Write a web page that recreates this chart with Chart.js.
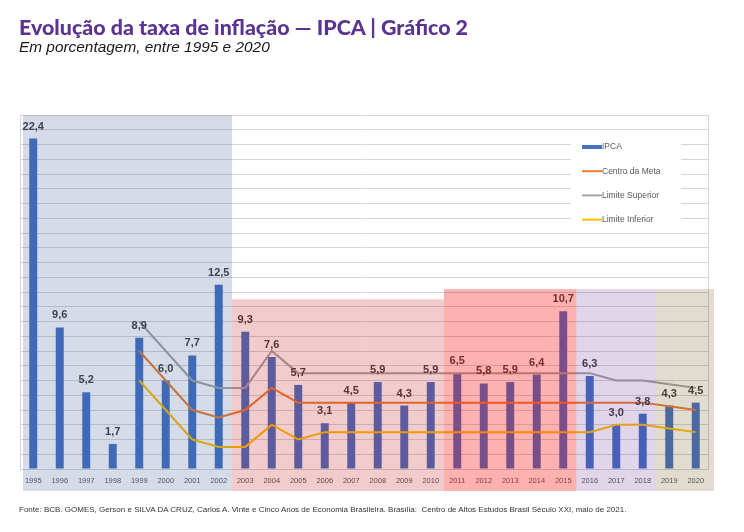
<!DOCTYPE html>
<html>
<head>
<meta charset="utf-8">
<script src="https://cdn.jsdelivr.net/npm/chart.js@4.4.1/dist/chart.umd.min.js"></script>
<style>
  body { margin: 0; background: #fff; width: 744px; height: 532px; position: relative; overflow: hidden; }
  #title { position: absolute; left: 19px; top: 14px; font: 900 21.4px Lato, "Noto Sans", sans-serif; color: #5b3492; white-space: nowrap; }
  #subtitle { position: absolute; left: 19px; top: 38px; font: italic 15.4px "Liberation Sans", Arial, sans-serif; color: #1a1a1a; white-space: nowrap; }
  #source { position: absolute; left: 19px; top: 505px; font: 8px "Liberation Sans", Arial, sans-serif; color: #333; white-space: nowrap; }
  #wrap { position: absolute; left: 0; top: 0; width: 744px; height: 532px; }
</style>
</head>
<body>
<div id="wrap"><canvas id="canvas"></canvas></div>
<div id="title">Evolução da taxa de inflação — IPCA | Gráfico 2</div>
<div id="subtitle">Em porcentagem, entre 1995 e 2020</div>
<div id="source">Fonte: BCB. GOMES, Gerson e SILVA DA CRUZ, Carlos A. Vinte e Cinco Anos de Economia Brasileira. Brasília:&nbsp; Centro de Altos Estudos Brasil Século XXI, maio de 2021.</div>
<script>
const years = ["1995","1996","1997","1998","1999","2000","2001","2002","2003","2004","2005","2006","2007",
               "2008","2009","2010","2011","2012","2013","2014","2015","2016","2017","2018","2019","2020"];

const ipca = [22.4, 9.6, 5.2, 1.7, 8.9, 6.0, 7.7, 12.5, 9.3, 7.6, 5.7, 3.1, 4.5,
              5.9, 4.3, 5.9, 6.5, 5.8, 5.9, 6.4, 10.7, 6.3, 3.0, 3.75, 4.3, 4.5];

const centroMeta = [null, null, null, null, 8, 6, 4, 3.5, 4, 5.5, 4.5, 4.5, 4.5,
                    4.5, 4.5, 4.5, 4.5, 4.5, 4.5, 4.5, 4.5, 4.5, 4.5, 4.5, 4.25, 4.0];

const limiteSuperior = [null, null, null, null, 10, 8, 6, 5.5, 5.5, 8, 6.5, 6.5, 6.5,
                        6.5, 6.5, 6.5, 6.5, 6.5, 6.5, 6.5, 6.5, 6.5, 6.0, 6.0, 5.75, 5.5];

const limiteInferior = [null, null, null, null, 6, 4, 2, 1.5, 1.5, 3, 2, 2.5, 2.5,
                        2.5, 2.5, 2.5, 2.5, 2.5, 2.5, 2.5, 2.5, 2.5, 3.0, 3.0, 2.75, 2.5];

// shaded periods (first year, last year, top of the band in %)
const periodStart = ["1995", "2003", "2011", "2016", "2019"];
const periodEnd   = ["2002", "2010", "2015", "2018", "2020"];
const periodTop   = [24, 11.5, 12.2, 12.2, 12.2];
const periodColor = ["rgba(45,75,135,0.2)", "rgba(185,0,5,0.2)", "rgba(248,0,0,0.3)",
                     "rgba(88,22,139,0.18)", "rgba(97,65,0,0.185)"];

const legendNames = ["IPCA", "Centro da Meta", "Limite Superior", "Limite Inferior"];

const fmt = v => v.toFixed(1).replace(".", ",");

// value labels above the bars
const barLabels = {
  id: "barLabels",
  afterDatasetsDraw(chart) {
    const ctx = chart.ctx;
    const meta = chart.getDatasetMeta(0);
    ctx.save();
    ctx.font = "bold 11px 'Liberation Sans', Arial, sans-serif";
    ctx.fillStyle = "#404040";
    ctx.textAlign = "center";
    ctx.textBaseline = "middle";
    meta.data.forEach((bar, i) => {
      ctx.fillText(fmt(ipca[i]), bar.x, bar.y - 12);
    });
    ctx.restore();
  }
};

// legend box inside the plot, top right
const innerLegend = {
  id: "innerLegend",
  afterDatasetsDraw(chart) {
    const ctx = chart.ctx;
    const area = chart.chartArea;
    const x0 = area.right - 138, y0 = area.top + 16;
    ctx.save();
    ctx.fillStyle = "#ffffff";
    ctx.fillRect(x0, y0, 110, 102);
    ctx.font = "8.5px 'Liberation Sans', Arial, sans-serif";
    ctx.textBaseline = "middle";
    chart.data.datasets.forEach((ds, i) => {
      const y = y0 + 16 + i * 24.2;
      ctx.fillStyle = ds.borderColor;
      if (i === 0) ctx.fillRect(x0 + 11, y - 2, 20, 4);
      else ctx.fillRect(x0 + 11, y - 1, 20, 2);
      ctx.fillStyle = "#595959";
      ctx.fillText(legendNames[i], x0 + 31, y);
    });
    ctx.restore();
  }
};

// frame lines + shaded periods drawn on top (translucent)
const periods = {
  id: "periods",
  afterDraw(chart) {
    const ctx = chart.ctx;
    const x = chart.scales.x, y = chart.scales.y;
    const area = chart.chartArea;
    const half = (x.getPixelForValue(1) - x.getPixelForValue(0)) / 2;
    ctx.save();
    ctx.strokeStyle = "#d0d5df";
    ctx.lineWidth = 1;
    ctx.beginPath();
    ctx.moveTo(area.left + 0.5, area.top);
    ctx.lineTo(area.left + 0.5, area.bottom);
    ctx.moveTo(area.right - 0.5, area.top);
    ctx.lineTo(area.right - 0.5, area.bottom);
    ctx.stroke();
    periodStart.forEach((s, i) => {
      let l = x.getPixelForValue(years.indexOf(s)) - half;
      let r = x.getPixelForValue(years.indexOf(periodEnd[i])) + half;
      if (i === 0) l += 3;
      if (i === periodStart.length - 1) r += 5;
      const t = y.getPixelForValue(periodTop[i]);
      const b = area.bottom + 22;
      ctx.fillStyle = periodColor[i];
      ctx.fillRect(l, t, r - l, b - t);
    });
    ctx.restore();
  }
};

const ctx = document.getElementById("canvas").getContext("2d");

new Chart(ctx, {
  type: "bar",
  data: {
    labels: years,
    datasets: [
      {
        type: "bar",
        label: "IPCA",
        data: ipca,
        backgroundColor: "#4472C4",
        borderColor: "#4472C4",
        barPercentage: 1,
        categoryPercentage: 0.3,
        order: 2
      },
      {
        type: "line",
        label: "Centro da Meta",
        data: centroMeta,
        borderColor: "#ED7D31",
        backgroundColor: "#ED7D31",
        borderWidth: 2,
        pointRadius: 0,
        tension: 0,
        order: 1
      },
      {
        type: "line",
        label: "Limite Superior",
        data: limiteSuperior,
        borderColor: "#A5A5A5",
        backgroundColor: "#A5A5A5",
        borderWidth: 2,
        pointRadius: 0,
        tension: 0,
        order: 1
      },
      {
        type: "line",
        label: "Limite Inferior",
        data: limiteInferior,
        borderColor: "#FFC000",
        backgroundColor: "#FFC000",
        borderWidth: 2,
        pointRadius: 0,
        tension: 0,
        order: 1
      }
    ]
  },
  options: {
    responsive: true,
    maintainAspectRatio: false,
    animation: false,
    layout: { padding: { left: 20, right: 35, top: 115, bottom: 40 } },
    plugins: {
      legend: { display: false },
      tooltip: { enabled: false }
    },
    scales: {
      x: {
        grid: { display: false, drawTicks: false },
        border: { display: false },
        ticks: {
          color: "#595959",
          font: { family: "'Liberation Sans Narrow', 'Liberation Sans', Arial, sans-serif", size: 7.5 },
          padding: 7,
          maxRotation: 0,
          autoSkip: false
        }
      },
      y: {
        min: 0,
        max: 24,
        grid: { color: "#d6d6d6", lineWidth: 1, drawTicks: false },
        border: { display: false },
        ticks: { display: false, stepSize: 1 }
      }
    }
  },
  plugins: [barLabels, innerLegend, periods]
});
</script>
</body>
</html>
